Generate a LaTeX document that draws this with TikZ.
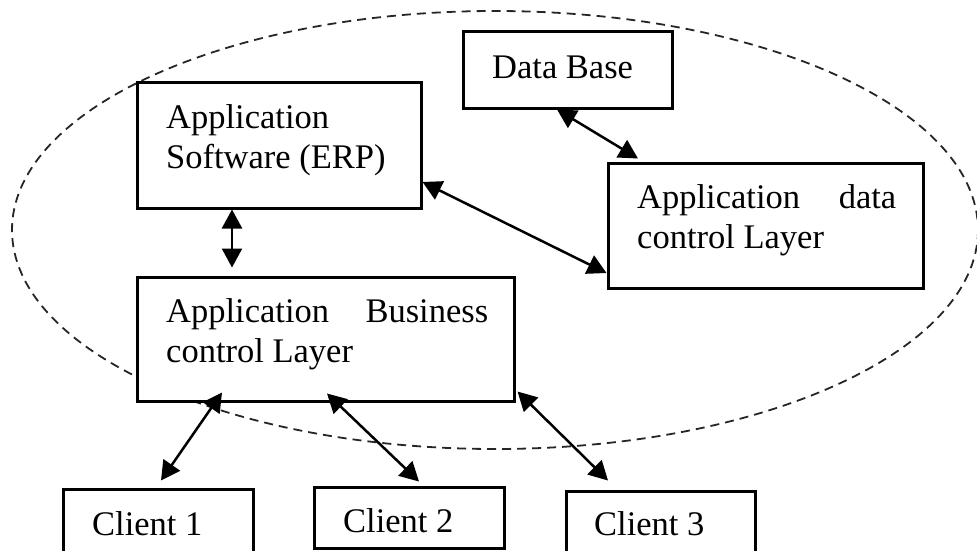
\documentclass[tikz,border=0pt]{standalone}
\usepackage{fontspec}
\setmainfont{Liberation Serif}
\usetikzlibrary{arrows.meta}

\tikzset{
  box/.style={draw=black, line width=3pt, fill=white, inner sep=0pt, rectangle},
  label text/.style={anchor=base west, inner sep=0pt, font=\fontsize{34.5}{40}\selectfont},
  bi/.style={line width=2.5pt, {Triangle[length=19pt,width=20pt]}-{Triangle[length=19pt,width=20pt]}},
  zone/.style={dash pattern=on 9pt off 6pt, line width=1.8pt, black!85}
}

\begin{document}
\begin{tikzpicture}[x=1pt, y=-1pt]
  \useasboundingbox (0,0) rectangle (977,551);
  \clip (0,0) rectangle (977,551);

  % dashed boundary of the server side
  \draw[zone] (495,230) ellipse [x radius=483, y radius=219];

  % boxes
  \node[box, minimum width=209pt, minimum height=76pt] (db) at (567.5,70) {};
  \node[box, minimum width=284pt, minimum height=126pt] (erp) at (279,145) {};
  \node[box, minimum width=315pt, minimum height=125pt] (dcl) at (765.5,225.5) {};
  \node[box, minimum width=377pt, minimum height=124pt] (biz) at (325.5,339) {};
  \node[box, minimum width=190pt, minimum height=80pt] (c1) at (158,529) {};
  \node[box, minimum width=190pt, minimum height=61pt] (c2) at (409,517.5) {};
  \node[box, minimum width=189pt, minimum height=80pt] (c3) at (660.5,531) {};

  % labels
  \node[label text] (dbt) at (492,78) {Data Base};
  \node[label text] (erpt) at (166,128) {\parbox[t]{260pt}{Application\\Software (ERP)}};
  \node[label text] (dclt) at (637,208) {\parbox[t]{259pt}{Application\hfill data\\control Layer}};
  \node[label text] (bizt) at (166,322) {\parbox[t]{322pt}{Application\hfill Business\\control Layer}};
  \node[label text] (c1t) at (92,535) {Client 1};
  \node[label text] (c2t) at (343,532) {Client 2};
  \node[label text] (c3t) at (594,535) {Client 3};

  % connectors
  \draw[bi] ([xshift=-47pt]erp.south) -- ([xshift=-93.5pt,yshift=8pt]biz.north);
  \draw[bi] ([yshift=-37pt]erp.east) -- ([yshift=-47.5pt]dcl.west);
  \draw[bi] ([xshift=-10.5pt]db.south) -- ([xshift=-127.5pt,yshift=3pt]dcl.north);
  \draw[bi] ([xshift=-103.5pt,yshift=10pt]biz.south) -- ([xshift=3pt,yshift=7pt]c1.north);
  \draw[bi] ([xshift=1.5pt,yshift=9pt]biz.south) -- ([xshift=10pt,yshift=4pt]c2.north);
  \draw[bi] ([xshift=2pt,yshift=11pt]biz.south east) -- ([xshift=-52.5pt,yshift=9pt]c3.north);
\end{tikzpicture}
\end{document}
